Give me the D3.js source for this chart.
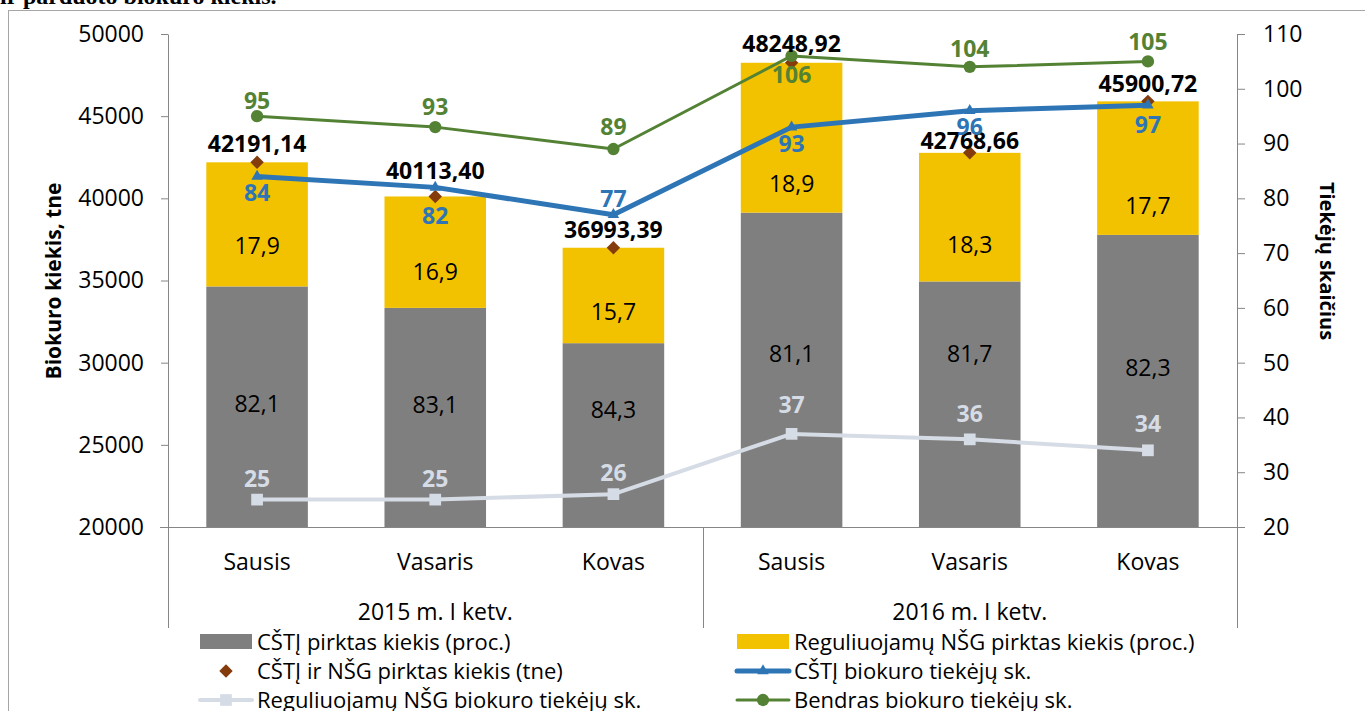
<!doctype html>
<html>
<head>
<meta charset="utf-8">
<style>
  body { margin: 0; background: #fff; }
  text { font-family: "Open Sans", Lato, sans-serif; }
</style>
<script src="https://d3js.org/d3.v7.min.js"></script>
</head>
<body>
<svg width="1365" height="711" id="chart"></svg>
<script>
// data
var months = ["Sausis", "Vasaris", "Kovas", "Sausis", "Vasaris", "Kovas"];
var quarters = ["2015 m. I ketv.", "2016 m. I ketv."];
var totals = [42191.14, 40113.40, 36993.39, 48248.92, 42768.66, 45900.72];
var cstiPct = [82.1, 83.1, 84.3, 81.1, 81.7, 82.3];
var nsgPct = [17.9, 16.9, 15.7, 18.9, 18.3, 17.7];
var cstiSuppliers = [84, 82, 77, 93, 96, 97];
var nsgSuppliers = [25, 25, 26, 37, 36, 34];
var allSuppliers = [95, 93, 89, 106, 104, 105];
var leftTicks = [20000, 25000, 30000, 35000, 40000, 45000, 50000];
var rightTicks = [20, 30, 40, 50, 60, 70, 80, 90, 100, 110];

// label nudges (px), as placed in the original chart
var grayNudge = [-3, -12, -25, -16, -50, -13];
var yellowNudge = [22, 20, 16, 46, 28, 38];
var totalNudge = [-10, -17, -10, -11, -4, -9];
var blueNudge = [25, 37, -8, 25, 24, 28];
var paleNudge = [-13, -13, -13, -21, -17, -18];
var greenNudge = [-7, -12, -14, 27, -10, -11];

var gray = "#7f7f7f", yellow = "#f2c200", brown = "#843c0c",
    blue = "#2e75b6", green = "#548235", pale = "#d6dce5", axisCol = "#868686";

var lt = d3.formatLocale({decimal: ",", thousands: " ", grouping: [3], currency: ["", ""]});
var f1 = lt.format(".1f"), f2 = lt.format(".2f");

var svg = d3.select("#chart");

// title fragment cut off at the top
svg.append("text")
   .attr("x", 0).attr("y", 4)
   .style("font-family", "'Liberation Serif', 'DejaVu Serif', serif")
   .style("font-weight", "bold").style("font-size", "24px")
   .text("ir parduoto biokuro kiekis.");

// chart frame
svg.append("rect")
   .attr("x", 8.5).attr("y", 10.5).attr("width", 1400).attr("height", 750)
   .attr("fill", "none").attr("stroke", "#a6a6a6");

var plotL = 168, plotR = 1237, plotT = 34, plotB = 527;

var x = d3.scaleBand().domain(d3.range(months.length))
          .range([plotL, plotR]).paddingInner(0.43).paddingOuter(0.215);
var yL = d3.scaleLinear().domain([20000, 50000]).range([plotB, plotT]);
var yR = d3.scaleLinear().domain([20, 110]).range([plotB, plotT]);
var cx = function(i) { return x(i) + x.bandwidth() / 2; };

// stacked bars
var g = svg.append("g");
months.forEach(function(m, i) {
    var grayTop = totals[i] * cstiPct[i] / 100;
    g.append("rect").attr("x", x(i)).attr("width", x.bandwidth())
     .attr("y", yL(grayTop)).attr("height", yL(20000) - yL(grayTop)).attr("fill", gray);
    g.append("rect").attr("x", x(i)).attr("width", x.bandwidth())
     .attr("y", yL(totals[i])).attr("height", yL(grayTop) - yL(totals[i])).attr("fill", yellow);
    g.append("text").attr("x", cx(i)).attr("y", (yL(20000) + yL(grayTop)) / 2 + grayNudge[i])
     .attr("text-anchor", "middle").attr("dy", "0.35em").style("font-size", "23px")
     .text(f1(cstiPct[i]));
    g.append("text").attr("x", cx(i)).attr("y", (yL(grayTop) + yL(totals[i])) / 2 + yellowNudge[i])
     .attr("text-anchor", "middle").attr("dy", "0.35em").style("font-size", "23px")
     .text(f1(nsgPct[i]));
});

// axes
var axL = svg.append("g").attr("transform", "translate(" + plotL + ",0)")
   .call(d3.axisLeft(yL).tickValues(leftTicks).tickSize(7).tickSizeOuter(0).tickPadding(17).tickFormat(d3.format("d")));
var axR = svg.append("g").attr("transform", "translate(" + plotR + ",0)")
   .call(d3.axisRight(yR).tickValues(rightTicks).tickSize(8).tickSizeOuter(0).tickPadding(18).tickFormat(d3.format("d")));
[axL, axR].forEach(function(a) {
    a.select(".domain").attr("stroke", axisCol);
    a.selectAll(".tick line").attr("stroke", axisCol);
    a.selectAll(".tick text").style("font-size", "23px").attr("fill", "#000")
     .style("font-family", "'Open Sans', Lato, sans-serif");
});

// category axis
svg.append("line").attr("x1", plotL - 8).attr("x2", plotR + 8)
   .attr("y1", plotB + 0.5).attr("y2", plotB + 0.5).attr("stroke", axisCol);
[plotL, (x(2) + x.bandwidth() + x(3)) / 2, plotR].forEach(function(xx) {
    svg.append("line").attr("x1", Math.round(xx) + 0.5).attr("x2", Math.round(xx) + 0.5)
       .attr("y1", plotB).attr("y2", 628).attr("stroke", axisCol);
});
months.forEach(function(m, i) {
    svg.append("text").attr("x", cx(i)).attr("y", 570).attr("text-anchor", "middle")
       .style("font-size", "23px").text(m);
});
quarters.forEach(function(q, k) {
    svg.append("text").attr("x", (cx(k * 3) + cx(k * 3 + 2)) / 2).attr("y", 620)
       .attr("text-anchor", "middle").style("font-size", "23px").text(q);
});

// axis titles
svg.append("text").attr("transform", "translate(54,281) rotate(-90)")
   .attr("text-anchor", "middle").attr("dy", "0.35em")
   .style("font-size", "21px").style("font-weight", "bold").text("Biokuro kiekis, tne");
svg.append("text").attr("transform", "translate(1327,261) rotate(90)")
   .attr("text-anchor", "middle").attr("dy", "0.35em")
   .style("font-size", "20px").style("font-weight", "bold").text("Tiekėjų skaičius");

// markers
var sym = {
    diamond: d3.symbol().type(d3.symbolDiamond2).size(115),
    triangle: d3.symbol().type(d3.symbolTriangle2).size(95),
    square: d3.symbol().type(d3.symbolSquare2).size(175),
    circle: d3.symbol().type(d3.symbolCircle).size(120)
};

// totals (diamonds)
totals.forEach(function(v, i) {
    svg.append("path").attr("d", sym.diamond())
       .attr("transform", "translate(" + cx(i) + "," + yL(v) + ")").attr("fill", brown);
});

function series(vals, color, width, marker) {
    var line = d3.line().x(function(d, i) { return cx(i); }).y(function(d) { return yR(d); });
    svg.append("path").datum(vals).attr("d", line).attr("fill", "none")
       .attr("stroke", color).attr("stroke-width", width).attr("stroke-linejoin", "round");
    vals.forEach(function(v, i) {
        svg.append("path").attr("d", marker())
           .attr("transform", "translate(" + cx(i) + "," + yR(v) + ")").attr("fill", color);
    });
}
series(cstiSuppliers, blue, 5, sym.triangle);
series(nsgSuppliers, pale, 4, sym.square);
series(allSuppliers, green, 3, sym.circle);

// data labels
function labels(vals, scale, color, fmt, nudge) {
    vals.forEach(function(v, i) {
        svg.append("text").attr("x", cx(i)).attr("y", scale(v) + nudge[i])
           .attr("text-anchor", "middle").attr("fill", color)
           .style("font-size", "23px").style("font-weight", "bold").text(fmt(v));
    });
}
labels(totals, yL, "#000", f2, totalNudge);
labels(cstiSuppliers, yR, blue, d3.format("d"), blueNudge);
labels(nsgSuppliers, yR, pale, d3.format("d"), paleNudge);
labels(allSuppliers, yR, green, d3.format("d"), greenNudge);

// legend
var legend = [
    {col: 0, row: 0, type: "rect", color: gray, text: "CŠTĮ pirktas kiekis (proc.)"},
    {col: 1, row: 0, type: "rect", color: yellow, text: "Reguliuojamų NŠG pirktas kiekis (proc.)"},
    {col: 0, row: 1, type: "diamond", color: brown, text: "CŠTĮ ir NŠG pirktas kiekis (tne)"},
    {col: 1, row: 1, type: "triangle", color: blue, w: 5, text: "CŠTĮ biokuro tiekėjų sk."},
    {col: 0, row: 2, type: "square", color: pale, w: 4, text: "Reguliuojamų NŠG biokuro tiekėjų sk."},
    {col: 1, row: 2, type: "circle", color: green, w: 3, text: "Bendras biokuro tiekėjų sk."}
];
var colX = [200, 737], rowY = [642, 671, 700];
legend.forEach(function(d) {
    var lx = colX[d.col], ly = rowY[d.row];
    var lg = svg.append("g");
    if (d.type === "rect") {
        lg.append("rect").attr("x", lx).attr("y", ly - 8).attr("width", 52).attr("height", 15).attr("fill", d.color);
    } else if (d.type === "diamond") {
        lg.append("path").attr("d", sym.diamond()).attr("transform", "translate(" + (lx + 26) + "," + ly + ")").attr("fill", d.color);
    } else {
        lg.append("line").attr("x1", lx).attr("x2", lx + 52).attr("y1", ly).attr("y2", ly)
          .attr("stroke", d.color).attr("stroke-width", d.w).attr("stroke-linecap", "round");
        lg.append("path").attr("d", sym[d.type]()).attr("transform", "translate(" + (lx + 26) + "," + ly + ")").attr("fill", d.color);
    }
    lg.append("text").attr("x", lx + 57).attr("y", ly).attr("dy", "0.35em")
      .style("font-size", "22px").text(d.text);
});
</script>
</body>
</html>
